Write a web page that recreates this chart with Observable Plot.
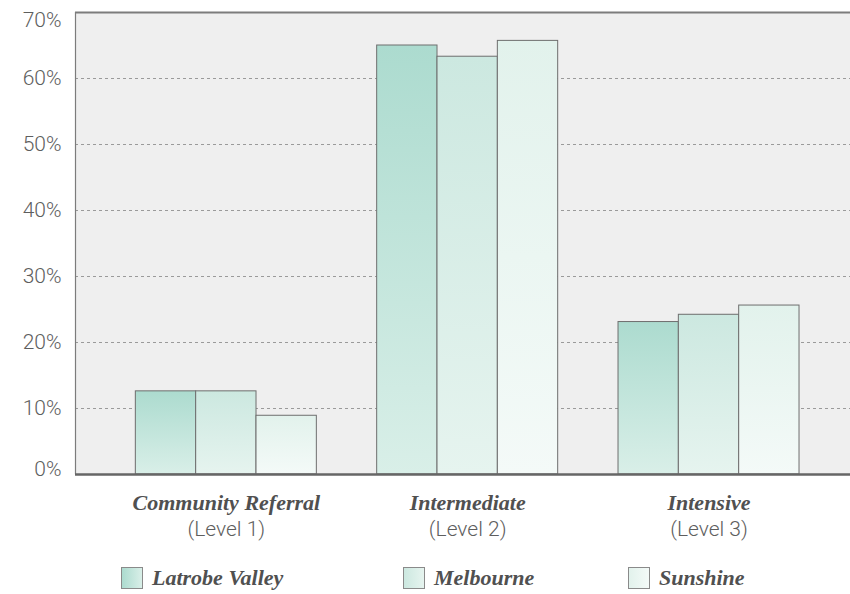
<!DOCTYPE html>
<html>
<head>
<meta charset="utf-8">
<script src="https://cdn.jsdelivr.net/npm/d3@7"></script>
<script src="https://cdn.jsdelivr.net/npm/@observablehq/plot@0.6"></script>
<style>
  html, body { margin: 0; padding: 0; background: #fff; }
  #wrap { position: relative; width: 850px; height: 594px; }
  #chart svg { display: block; }
  g[aria-label="bars"] rect { filter: drop-shadow(1.2px 0 0.6px rgba(0,0,0,0.28)); }
  .legend { position: absolute; top: 545px; left: 0; width: 850px; height: 49px; }
  .item { position: absolute; top: 22px; display: flex; align-items: center; }
  .sw { width: 22px; height: 22px; box-sizing: border-box; border: 1px solid #8a8a8a; margin-right: 9px; }
  .lbl { font-family: "Liberation Serif", "Times New Roman", serif; font-weight: bold; font-style: italic; font-size: 22px; color: #505050; line-height: 22px; }
</style>
</head>
<body>
<div id="wrap">
  <div id="chart"></div>
  <div class="legend" id="legend"></div>
</div>
<script>
// Referral levels and their sub-labels
const groups = ["Community Referral", "Intermediate", "Intensive"];
const levels = ["(Level 1)", "(Level 2)", "(Level 3)"];
// Regions compared within each level
const series = ["Latrobe Valley", "Melbourne", "Sunshine"];
// Share of clients per level, one array per region (percent)
const latrobeValley = [12.6, 65.0, 23.1];
const melbourne     = [12.6, 63.3, 24.2];
const sunshine      = [8.9, 65.7, 25.6];
// Y axis ticks
const yTicks = [0, 10, 20, 30, 40, 50, 60, 70];

// Gradient colours for each region (top, bottom)
const gradTop    = ["#acdbcf", "#cce8e0", "#e2f2ec"];
const gradBottom = ["#d9efe8", "#e6f4ef", "#f4faf8"];

const values = [latrobeValley, melbourne, sunshine];
// Each level occupies four slots: three bars and a gap
const rows = [];
groups.forEach((g, gi) => {
  series.forEach((s, si) => {
    rows.push({group: g, series: s, si, slot: gi * 4 + si + 1, value: values[si][gi]});
  });
});
const labelRows = groups.map((g, gi) => ({group: g, level: levels[gi], center: gi * 4 + 2.5}));

const font = "Roboto, 'Helvetica Neue', 'Liberation Sans', sans-serif";
const tickStyle = {frameAnchor: "left", textAnchor: "end", dx: -14, fontSize: 21, fontWeight: 300, fill: "#5e5e5e"};

const chart = Plot.plot({
  width: 850,
  height: 545,
  marginTop: 12,
  marginBottom: 71,
  marginLeft: 75,
  marginRight: 0,
  x: {domain: [0, 12.845], axis: null},
  y: {domain: [0, 70], axis: null},
  color: {type: "identity"},
  style: {fontFamily: font, background: "transparent", overflow: "visible"},
  marks: [
    Plot.frame({fill: "#efefef", stroke: null}),
    Plot.ruleY(yTicks.filter(t => t > 0 && t < 70), {stroke: "#9a9a9a", strokeWidth: 1, strokeDasharray: "3,3"}),
    Plot.ruleY([70], {stroke: "#7c7c7c", strokeWidth: 2}),
    Plot.ruleX([0], {stroke: "#7c7c7c", strokeWidth: 1.2}),
    Plot.rectY(rows, {
      x1: "slot",
      x2: d => d.slot + 1,
      y1: 0,
      y2: "value",
      fill: d => `url(#bar-grad-${d.si})`,
      stroke: "#6e6e6e",
      strokeWidth: 1,
      ariaLabel: "bars"
    }),
    Plot.ruleY([0], {stroke: "#666", strokeWidth: 2.5}),
    // y tick labels, the end values nudged inside the frame
    Plot.text(yTicks.filter(t => t > 0 && t < 70), {y: d => d, text: d => d + "%", ...tickStyle}),
    Plot.text([70], {y: d => d, text: d => d + "%", ...tickStyle, dy: 8}),
    Plot.text([0], {y: d => d, text: d => d + "%", ...tickStyle, dy: -5}),
    // level names under each group
    Plot.text(labelRows, {
      x: "center", y: 0, text: "group", dy: 28,
      fontFamily: "'Liberation Serif', 'Times New Roman', serif", fontWeight: "bold", fontStyle: "italic",
      fontSize: 22, fill: "#505050"
    }),
    Plot.text(labelRows, {
      x: "center", y: 0, text: "level", dy: 55,
      fontSize: 21, fontWeight: 300, fill: "#5e5e5e"
    })
  ]
});

// vertical gradients used by the bars
const defs = d3.select(chart).insert("defs", ":first-child");
series.forEach((s, i) => {
  const lg = defs.append("linearGradient")
    .attr("id", `bar-grad-${i}`).attr("x1", 0).attr("y1", 0).attr("x2", 0).attr("y2", 1);
  lg.append("stop").attr("offset", "0%").attr("stop-color", gradTop[i]);
  lg.append("stop").attr("offset", "100%").attr("stop-color", gradBottom[i]);
});

document.getElementById("chart").appendChild(chart);

// legend below the chart
const legendLefts = [121, 403, 628];
const legend = d3.select("#legend");
series.forEach((s, i) => {
  const item = legend.append("div").attr("class", "item").style("left", legendLefts[i] + "px");
  item.append("div").attr("class", "sw")
    .style("background", `linear-gradient(to right, ${gradTop[i]}, ${gradBottom[i]})`);
  item.append("div").attr("class", "lbl").text(s);
});
</script>
</body>
</html>
